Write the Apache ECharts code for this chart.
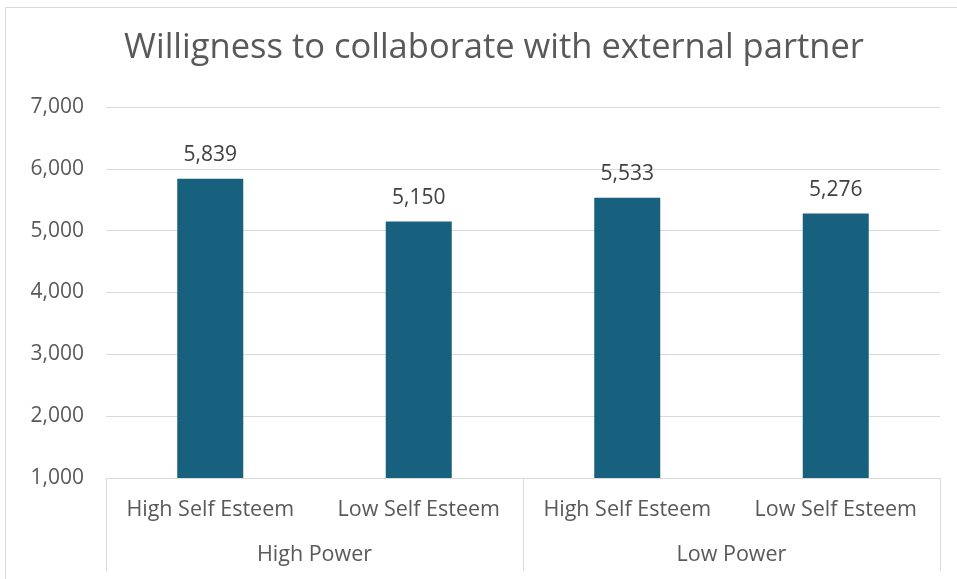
<!DOCTYPE html>
<html>
<head>
<meta charset="utf-8">
<script src="https://cdn.jsdelivr.net/npm/echarts@6/dist/echarts.min.js"></script>
<style>
  html, body { margin: 0; padding: 0; background: #ffffff; }
  #frame { position: absolute; left: 5px; top: 7px; width: 1000px; height: 600px; border: 1px solid #d9d9d9; box-sizing: border-box; }
  #chart { position: absolute; left: 0; top: 0; width: 957px; height: 579px; }
</style>
</head>
<body>
<div id="frame"></div>
<div id="chart"></div>
<script>
// Willingness scores by self esteem, grouped by power condition
const subCategories = ['High Self Esteem', 'Low Self Esteem', 'High Self Esteem', 'Low Self Esteem'];
const groupCategories = ['High Power', 'Low Power'];
const scores = [5839, 5150, 5533, 5276];
const yTicks = [1000, 2000, 3000, 4000, 5000, 6000, 7000];

const fontFamily = '"Open Sans", "Noto Sans", sans-serif';
const textColor = '#595959';
const lineColor = '#d9d9d9';

const fmt = v => v.toLocaleString('en-US');

const chart = echarts.init(document.getElementById('chart'), null, { renderer: 'canvas' });
chart.setOption({
  animation: false,
  title: {
    text: 'Willigness to collaborate with external partner',
    left: 489, top: 26, textAlign: 'center',
    textStyle: { fontFamily, fontSize: 34.5, fontWeight: 'normal', color: textColor }
  },
  grid: { left: 106, right: 17, top: 107, bottom: 101, containLabel: false },
  xAxis: [
    {
      type: 'category', data: subCategories, position: 'bottom',
      axisLine: { show: true, lineStyle: { color: lineColor, width: 1 } },
      axisTick: { show: false },
      axisLabel: { interval: 0, hideOverlap: false, color: textColor, fontFamily, fontSize: 21.5, margin: 21 }
    },
    {
      type: 'category', data: groupCategories, position: 'bottom',
      axisLine: { show: false },
      axisTick: { show: true, alignWithLabel: false, interval: 0, length: 93, lineStyle: { color: lineColor, width: 1 } },
      axisLabel: { interval: 0, color: textColor, fontFamily, fontSize: 21.5, margin: 66 }
    }
  ],
  yAxis: {
    type: 'value', min: yTicks[0], max: yTicks[yTicks.length - 1], interval: 1000,
    axisLine: { show: false }, axisTick: { show: false },
    axisLabel: { color: textColor, fontFamily, fontSize: 21, margin: 22, formatter: fmt },
    splitLine: { lineStyle: { color: lineColor, width: 1 } }
  },
  series: [{
    type: 'bar', data: scores, xAxisIndex: 0, barWidth: 66,
    itemStyle: { color: '#17607e' },
    label: { show: true, position: 'top', distance: 13, color: '#404040', fontFamily, fontSize: 21, formatter: p => fmt(p.value) }
  }]
});
</script>
</body>
</html>
